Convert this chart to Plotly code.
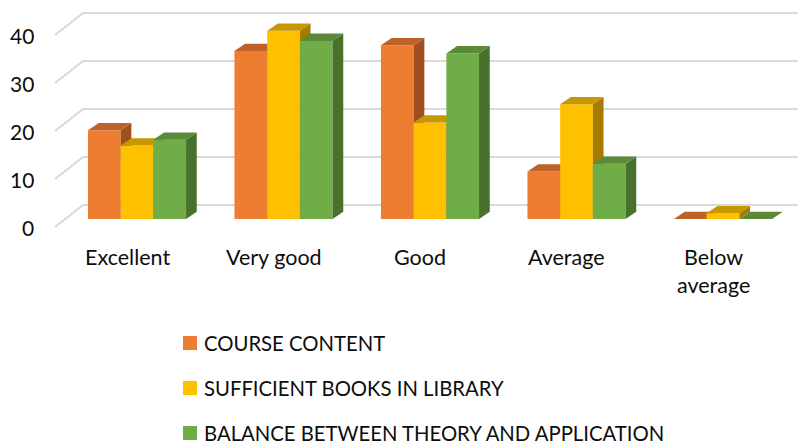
import plotly.graph_objects as go

# ---------------- data ----------------
categories = ["Excellent", "Very good", "Good", "Average", "Below average"]
course_content = [18.5, 35.0, 36.2, 9.9, 0.0]
sufficient_books = [15.3, 39.2, 20.1, 23.9, 1.2]
balance_theory = [16.5, 37.1, 34.5, 11.5, 0.0]
series_names = ["COURSE CONTENT", "SUFFICIENT BOOKS IN LIBRARY",
                "BALANCE BETWEEN THEORY AND APPLICATION"]
y_ticks = [0, 10, 20, 30, 40]

# ---------------- styling / geometry ----------------
OFF = 8                      # page body margin of the browser
W, H = 806 - OFF, 445 - OFF  # figure size (fits the window)
PXX = 146.5                  # px per category unit
PXY = 4.8                    # px per value unit
X0PX, Y0PX = 137 - OFF, 219 - OFF  # pixel of category 0 / value 0

front_cols = ["#ED7D31", "#FFC000", "#70AD47"]
top_cols = ["#BF622A", "#C89800", "#5A8A38"]
side_cols = ["#A04F1E", "#A57C00", "#49712B"]
grid_col = "#D9D9D9"
txt_col = "#0D0D0D"
FONT = "Lato"

def px_x(p):      # reference pixel x -> data x
    return (p - OFF - X0PX) / PXX

def px_y(p):      # reference pixel y -> data y
    return (Y0PX - (p - OFF)) / PXY

bw = 32.7 / PXX            # bar width
ddx, ddv = 10.7 / PXX, 7.3 / PXY     # bar depth
bdx, bdv = 18 / PXX, 14 / PXY        # back wall offset
fdx, fdv = -10 / PXX, -8 / PXY       # front plane offset
wall_x = px_x(65)
xmin, xmax = -X0PX / PXX, (W - X0PX) / PXX
ymin, ymax = (Y0PX - H) / PXY, Y0PX / PXY

fig = go.Figure()

# gridlines (back wall + left side wall)
for v in y_ticks:
    fig.add_trace(go.Scatter(
        x=[wall_x + fdx, wall_x + bdx, xmax],
        y=[v + fdv, v + bdv, v + bdv],
        mode="lines", line=dict(color=grid_col, width=2),
        hoverinfo="skip", showlegend=False))

series = [course_content, sufficient_books, balance_theory]
for i, cat in enumerate(categories):
    for j, vals in enumerate(series):
        v = vals[i]
        x0 = i - 1.5 * bw + j * bw
        x1 = x0 + bw
        # front face
        fig.add_trace(go.Scatter(
            x=[x0, x1, x1, x0, x0], y=[0, 0, v, v, 0],
            fill="toself", fillcolor=front_cols[j], mode="lines",
            line=dict(width=0, color=front_cols[j]),
            name=series_names[j], showlegend=False, hoverinfo="skip"))
        # side face
        fig.add_trace(go.Scatter(
            x=[x1, x1 + ddx, x1 + ddx, x1, x1], y=[0, ddv, v + ddv, v, 0],
            fill="toself", fillcolor=side_cols[j], mode="lines",
            line=dict(width=0, color=side_cols[j]),
            showlegend=False, hoverinfo="skip"))
        # top face
        fig.add_trace(go.Scatter(
            x=[x0, x1, x1 + ddx, x0 + ddx, x0], y=[v, v, v + ddv, v + ddv, v],
            fill="toself", fillcolor=top_cols[j], mode="lines",
            line=dict(width=0, color=top_cols[j]),
            showlegend=False, hoverinfo="skip"))

annotations = []
# y tick labels on the front plane
for v in y_ticks:
    annotations.append(dict(
        x=px_x(34.5), y=v + fdv, xref="x", yref="y",
        text=str(v), showarrow=False, xanchor="right", yanchor="middle",
        borderpad=0,
        font=dict(family=FONT, size=21, color=txt_col)))
# category labels
for i, cat in enumerate(categories):
    annotations.append(dict(
        x=i + fdx, y=px_y(242), xref="x", yref="y",
        text=cat.replace("Below ", "Below<br>"), showarrow=False,
        xanchor="center", yanchor="top",
        font=dict(family=FONT, size=21.5, color=txt_col)))

# legend (squares + text)
shapes = []
leg_y = [343, 388, 433]
for j, name in enumerate(series_names):
    yc = leg_y[j] - OFF
    shapes.append(dict(type="rect", xref="paper", yref="paper",
                       x0=(183 - OFF) / W, x1=(197 - OFF) / W,
                       y0=1 - (yc + 7) / H, y1=1 - (yc - 7) / H,
                       fillcolor=front_cols[j], line=dict(width=0)))
    annotations.append(dict(
        x=(202 - OFF) / W, y=1 - yc / H, xref="paper", yref="paper", text=name,
        showarrow=False, xanchor="left", yanchor="middle",
        font=dict(family=FONT, size=20.3, color=txt_col)))

fig.update_layout(
    width=W, height=H, autosize=False,
    margin=dict(l=0, r=0, t=0, b=0, pad=0),
    paper_bgcolor="white", plot_bgcolor="white",
    xaxis=dict(range=[xmin, xmax], visible=False, fixedrange=True),
    yaxis=dict(range=[ymin, ymax], visible=False, fixedrange=True),
    showlegend=False,
    annotations=annotations, shapes=shapes,
)

fig.write_html("out.html")
